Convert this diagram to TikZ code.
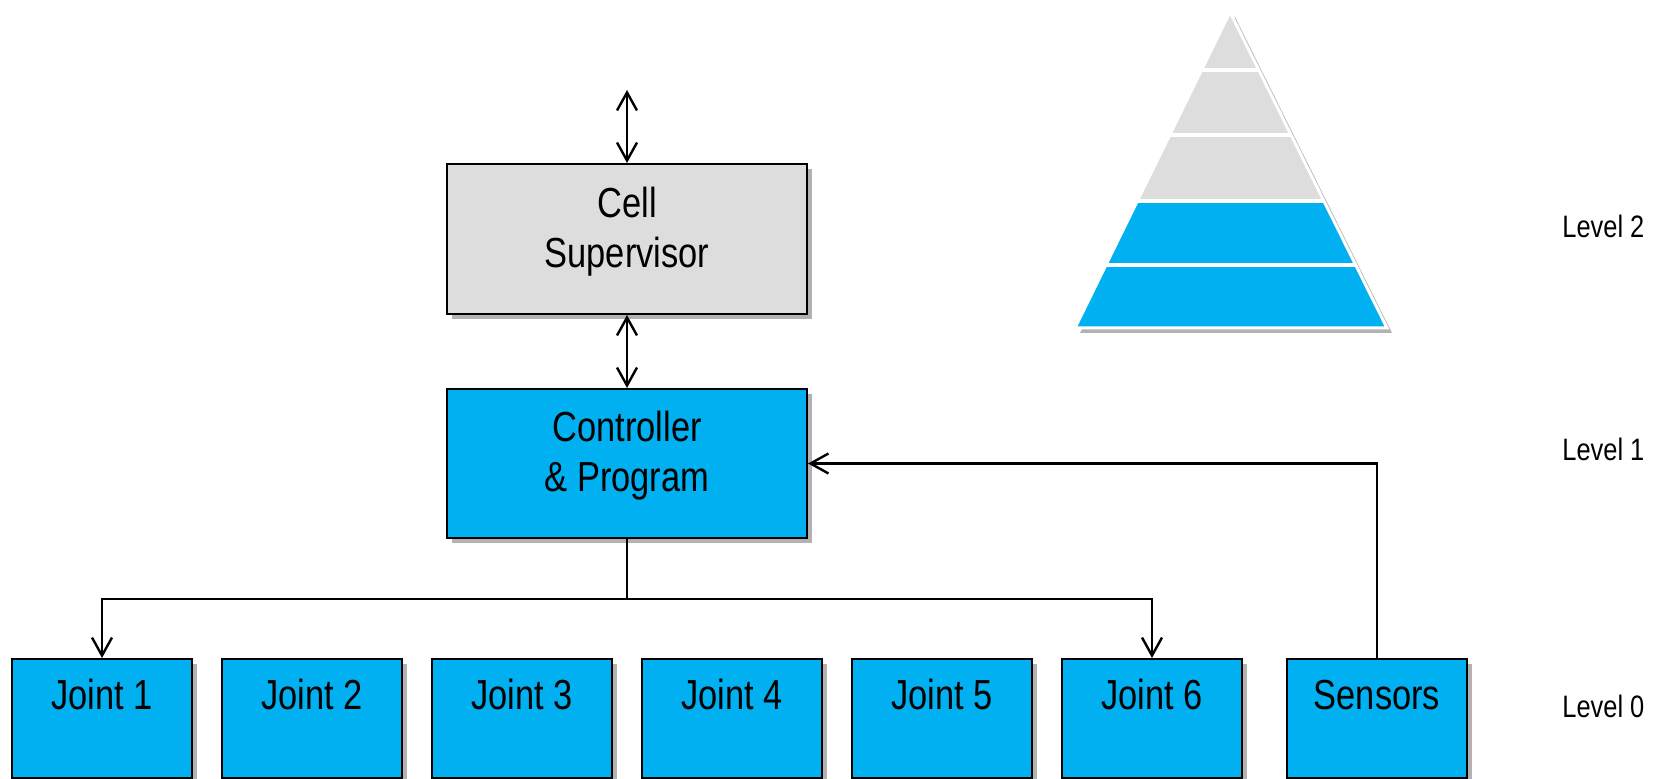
\documentclass[tikz,border=0pt]{standalone}
\usepackage{fontspec}
\setmainfont{Liberation Sans}[FakeStretch=0.82]
\usetikzlibrary{arrows.meta,shadows}
\definecolor{ctrlblue}{RGB}{0,176,240}
\definecolor{cellgray}{RGB}{221,221,221}
\tikzset{
  boxshadow/.style={drop shadow={shadow xshift=2.5pt, shadow yshift=-2.5pt, opacity=0.3, fill=black}},
  box/.style={draw=black, line width=1pt, minimum width=180pt, minimum height=75pt, align=center,
    font=\fontsize{21}{25}\selectfont, text depth=12pt, boxshadow},
  jointbox/.style={draw=black, line width=1pt, fill=ctrlblue, minimum width=90pt, inner ysep=0pt,
    text height=25.5pt, text depth=34pt, font=\fontsize{21}{25}\selectfont, boxshadow},
  link/.style={line width=1.2pt, -{Straight Barb[length=9pt,width=10pt]}},
  duallink/.style={line width=1.2pt, {Straight Barb[length=9pt,width=10pt]}-{Straight Barb[length=9pt,width=10pt]}},
  level/.style={anchor=west, inner sep=0pt, font=\fontsize{15.5}{18}\selectfont}
}
\begin{document}
\begin{tikzpicture}[x=0.5pt, y=-0.5pt]
  \useasboundingbox (0,0) rectangle (1664,779);

  % Nodes
  \node[box, fill=cellgray] (cell) at (627,239) {Cell\\Supervisor};
  \node[box, fill=ctrlblue, minimum height=74.5pt] (ctrl) at (627,463.5) {Controller\\\& Program};
  \foreach \i in {1,...,6}
    \node[jointbox] (j\i) at ({102+210*(\i-1)},718.5) {Joint \i};
  \node[jointbox] (sens) at (1377,718.5) {Sensors};
  \coordinate (top) at (627,90);
  \coordinate (bus) at (627,599);

  % Edges
  \draw[duallink] (top) -- (cell);
  \draw[duallink] (cell) -- (ctrl);
  \draw[line width=1.2pt] (ctrl) -- (bus);
  \foreach \x in {j1, j6}
    \draw[link] (bus) -| (\x);
  \draw[link] (sens) |- (ctrl);

  % Pyramid
  \fill[white, boxshadow] (1230,12) -- (1387,328) -- (1075,328) -- cycle;
  \begin{scope}
    \clip (1230,12) -- (1387,328) -- (1075,328) -- cycle;
    \fill[cellgray] (1000,0) rectangle (1450,201);
    \fill[ctrlblue] (1000,201) rectangle (1450,340);
    \foreach \y in {70,135,201,265}
      \draw[white, line width=2pt] (1000,\y) -- (1450,\y);
  \end{scope}
  \draw[white, line width=1.5pt, line join=miter] (1230,12) -- (1387,328) -- (1075,328) -- cycle;

  % Levels
  \node[level] (lv2) at (1562,226) {Level 2};
  \node[level] (lv1) at (1562,449) {Level 1};
  \node[level] (lv0) at (1562,706) {Level 0};
\end{tikzpicture}
\end{document}
